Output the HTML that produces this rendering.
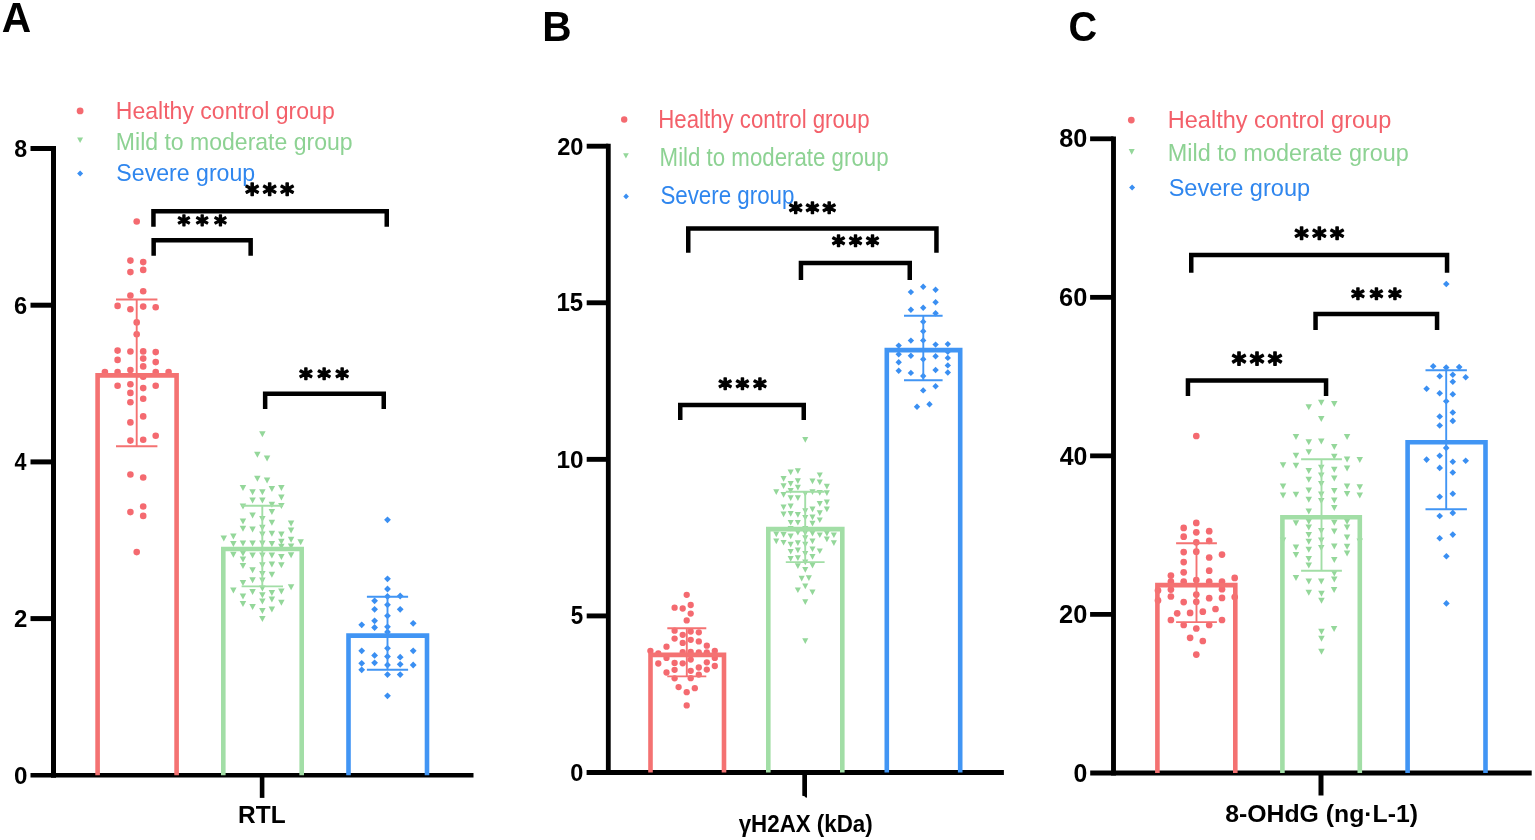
<!DOCTYPE html>
<html><head><meta charset="utf-8"><title>Figure</title>
<style>html,body{margin:0;padding:0;background:#fff;}svg{display:block;}</style>
</head><body>
<svg width="1535" height="840" viewBox="0 0 1535 840">
<rect width="1535" height="840" fill="#fff"/>
<text transform="translate(1.78,31.80) scale(0.9466,1)" font-family='"Liberation Sans", Arial, sans-serif' font-weight="bold" font-size="43.04" fill="#000" >A</text>
<text transform="translate(542.36,41.20) scale(0.9509,1)" font-family='"Liberation Sans", Arial, sans-serif' font-weight="bold" font-size="42.75" fill="#000" >B</text>
<text transform="translate(1068.41,40.97) scale(0.9271,1)" font-family='"Liberation Sans", Arial, sans-serif' font-weight="bold" font-size="42.82" fill="#000" >C</text>
<line x1="53.50" y1="146.00" x2="53.50" y2="777.70" stroke="#000" stroke-width="5.0" stroke-linecap="butt"/>
<line x1="30.50" y1="775.30" x2="473.50" y2="775.30" stroke="#000" stroke-width="4.6" stroke-linecap="butt"/>
<line x1="30.50" y1="618.60" x2="53.50" y2="618.60" stroke="#000" stroke-width="5.0" stroke-linecap="butt"/>
<line x1="30.50" y1="461.90" x2="53.50" y2="461.90" stroke="#000" stroke-width="5.0" stroke-linecap="butt"/>
<line x1="30.50" y1="305.20" x2="53.50" y2="305.20" stroke="#000" stroke-width="5.0" stroke-linecap="butt"/>
<line x1="30.50" y1="148.50" x2="53.50" y2="148.50" stroke="#000" stroke-width="5.0" stroke-linecap="butt"/>
<text transform="translate(13.93,783.61) scale(1.0052,1)" font-family='"Liberation Sans", Arial, sans-serif' font-weight="bold" font-size="24.08" fill="#000" >0</text>
<text transform="translate(14.06,627.15) scale(0.9808,1)" font-family='"Liberation Sans", Arial, sans-serif' font-weight="bold" font-size="24.43" fill="#000" >2</text>
<text transform="translate(14.58,470.45) scale(0.8674,1)" font-family='"Liberation Sans", Arial, sans-serif' font-weight="bold" font-size="24.78" fill="#000" >4</text>
<text transform="translate(14.07,313.51) scale(0.9845,1)" font-family='"Liberation Sans", Arial, sans-serif' font-weight="bold" font-size="24.08" fill="#000" >6</text>
<text transform="translate(14.20,156.81) scale(0.9646,1)" font-family='"Liberation Sans", Arial, sans-serif' font-weight="bold" font-size="24.08" fill="#000" >8</text>
<line x1="262.10" y1="775.30" x2="262.10" y2="797.90" stroke="#000" stroke-width="4.6" stroke-linecap="butt"/>
<text transform="translate(238.11,822.90) scale(1.0217,1)" font-family='"Liberation Sans", Arial, sans-serif' font-weight="bold" font-size="23.91" fill="#000" >RTL</text>
<circle cx="80.1" cy="110.9" r="3.4" fill="#F46A70"/>
<path d="M77.1,137.4h6.0l-3.0,5.6z" fill="#94D79A"/>
<path d="M80.1,170.4l3.0,3.0l-3.0,3.0l-3.0,-3.0z" fill="#3A8FF2"/>
<text transform="translate(115.86,119.40) scale(0.9437,1)" font-family='"Liberation Sans", Arial, sans-serif' font-weight="normal" font-size="24.40" fill="#F3606A" >Healthy control group</text>
<text transform="translate(115.86,149.60) scale(0.9435,1)" font-family='"Liberation Sans", Arial, sans-serif' font-weight="normal" font-size="24.40" fill="#8DD293" >Mild to moderate group</text>
<text transform="translate(116.36,181.40) scale(0.9477,1)" font-family='"Liberation Sans", Arial, sans-serif' font-weight="normal" font-size="24.40" fill="#2F86EE" >Severe group</text>
<line x1="608.30" y1="143.80" x2="608.30" y2="774.90" stroke="#000" stroke-width="4.8" stroke-linecap="butt"/>
<line x1="586.60" y1="772.50" x2="1003.90" y2="772.50" stroke="#000" stroke-width="4.8" stroke-linecap="butt"/>
<line x1="586.70" y1="615.92" x2="608.30" y2="615.92" stroke="#000" stroke-width="4.9" stroke-linecap="butt"/>
<line x1="586.70" y1="459.35" x2="608.30" y2="459.35" stroke="#000" stroke-width="4.9" stroke-linecap="butt"/>
<line x1="586.70" y1="302.78" x2="608.30" y2="302.78" stroke="#000" stroke-width="4.9" stroke-linecap="butt"/>
<line x1="586.70" y1="146.20" x2="608.30" y2="146.20" stroke="#000" stroke-width="4.9" stroke-linecap="butt"/>
<text transform="translate(570.36,781.00) scale(0.9566,1)" font-family='"Liberation Sans", Arial, sans-serif' font-weight="bold" font-size="24.65" fill="#000" >0</text>
<text transform="translate(570.63,624.42) scale(0.8960,1)" font-family='"Liberation Sans", Arial, sans-serif' font-weight="bold" font-size="25.00" fill="#000" >5</text>
<text transform="translate(556.42,467.85) scale(0.9891,1)" font-family='"Liberation Sans", Arial, sans-serif' font-weight="bold" font-size="24.65" fill="#000" >10</text>
<text transform="translate(556.44,311.28) scale(0.9608,1)" font-family='"Liberation Sans", Arial, sans-serif' font-weight="bold" font-size="25.00" fill="#000" >15</text>
<text transform="translate(557.17,154.70) scale(0.9604,1)" font-family='"Liberation Sans", Arial, sans-serif' font-weight="bold" font-size="24.65" fill="#000" >20</text>
<path d="M802.3,772 H807.0 V797.6 L806.0,797.8 L804.5,796.2 L802.3,795.7 Z" fill="#000"/>
<text transform="translate(738.69,831.99) scale(0.9365,1)" font-family='"Liberation Sans", Arial, sans-serif' font-weight="bold" font-size="23.85" fill="#000" >γH2AX (kDa)</text>
<circle cx="624.2" cy="119.5" r="3.2" fill="#F46A70"/>
<path d="M623.1,153.3h5.7l-2.9,5.3z" fill="#94D79A"/>
<path d="M626.1,193.6l2.8,2.8l-2.8,2.8l-2.8,-2.8z" fill="#3A8FF2"/>
<text transform="translate(658.32,128.30) scale(0.8931,1)" font-family='"Liberation Sans", Arial, sans-serif' font-weight="normal" font-size="24.90" fill="#F3606A" >Healthy control group</text>
<text transform="translate(659.62,165.50) scale(0.8945,1)" font-family='"Liberation Sans", Arial, sans-serif' font-weight="normal" font-size="24.90" fill="#8DD293" >Mild to moderate group</text>
<text transform="translate(660.40,204.10) scale(0.8968,1)" font-family='"Liberation Sans", Arial, sans-serif' font-weight="normal" font-size="24.90" fill="#2F86EE" >Severe group</text>
<line x1="1113.50" y1="136.40" x2="1113.50" y2="775.40" stroke="#000" stroke-width="4.9" stroke-linecap="butt"/>
<line x1="1090.20" y1="772.90" x2="1531.70" y2="772.90" stroke="#000" stroke-width="5.0" stroke-linecap="butt"/>
<line x1="1090.10" y1="614.38" x2="1113.50" y2="614.38" stroke="#000" stroke-width="4.8" stroke-linecap="butt"/>
<line x1="1090.10" y1="455.85" x2="1113.50" y2="455.85" stroke="#000" stroke-width="4.8" stroke-linecap="butt"/>
<line x1="1090.10" y1="297.33" x2="1113.50" y2="297.33" stroke="#000" stroke-width="4.8" stroke-linecap="butt"/>
<line x1="1090.10" y1="138.80" x2="1113.50" y2="138.80" stroke="#000" stroke-width="4.8" stroke-linecap="butt"/>
<text transform="translate(1073.51,781.55) scale(0.9909,1)" font-family='"Liberation Sans", Arial, sans-serif' font-weight="bold" font-size="25.07" fill="#000" >0</text>
<text transform="translate(1059.11,623.02) scale(1.0136,1)" font-family='"Liberation Sans", Arial, sans-serif' font-weight="bold" font-size="25.07" fill="#000" >20</text>
<text transform="translate(1059.63,464.50) scale(0.9944,1)" font-family='"Liberation Sans", Arial, sans-serif' font-weight="bold" font-size="25.07" fill="#000" >40</text>
<text transform="translate(1059.11,305.97) scale(1.0136,1)" font-family='"Liberation Sans", Arial, sans-serif' font-weight="bold" font-size="25.07" fill="#000" >60</text>
<text transform="translate(1059.24,147.45) scale(1.0087,1)" font-family='"Liberation Sans", Arial, sans-serif' font-weight="bold" font-size="25.07" fill="#000" >80</text>
<line x1="1321.00" y1="772.90" x2="1321.00" y2="795.50" stroke="#000" stroke-width="5.0" stroke-linecap="butt"/>
<text x="1225.16" y="821.89" font-family='"Liberation Sans", Arial, sans-serif' font-weight="bold" font-size="24.81" fill="#000" >8-OHdG (ng·L-1)</text>
<circle cx="1131.3" cy="120.1" r="3.4" fill="#F46A70"/>
<path d="M1128.7,149.1h6.0l-3.0,5.6z" fill="#94D79A"/>
<path d="M1132.1,184.6l3.0,3.0l-3.0,3.0l-3.0,-3.0z" fill="#3A8FF2"/>
<text transform="translate(1167.82,128.30) scale(0.9478,1)" font-family='"Liberation Sans", Arial, sans-serif' font-weight="normal" font-size="24.80" fill="#F3606A" >Healthy control group</text>
<text transform="translate(1167.82,161.10) scale(0.9454,1)" font-family='"Liberation Sans", Arial, sans-serif' font-weight="normal" font-size="24.80" fill="#8DD293" >Mild to moderate group</text>
<text transform="translate(1168.64,196.10) scale(0.9502,1)" font-family='"Liberation Sans", Arial, sans-serif' font-weight="normal" font-size="24.80" fill="#2F86EE" >Severe group</text>
<circle cx="136.7" cy="221.5" r="3.3" fill="#F46A70"/>
<circle cx="130.4" cy="260.6" r="3.3" fill="#F46A70"/>
<circle cx="143.2" cy="262.1" r="3.3" fill="#F46A70"/>
<circle cx="130.4" cy="272.1" r="3.3" fill="#F46A70"/>
<circle cx="143.2" cy="269.9" r="3.3" fill="#F46A70"/>
<circle cx="143.2" cy="291.3" r="3.3" fill="#F46A70"/>
<circle cx="130.4" cy="295.5" r="3.3" fill="#F46A70"/>
<circle cx="117.6" cy="305.9" r="3.3" fill="#F46A70"/>
<circle cx="130.4" cy="309.3" r="3.3" fill="#F46A70"/>
<circle cx="143.2" cy="306.6" r="3.3" fill="#F46A70"/>
<circle cx="155.7" cy="307.3" r="3.3" fill="#F46A70"/>
<circle cx="136.7" cy="322.4" r="3.3" fill="#F46A70"/>
<circle cx="136.7" cy="334.2" r="3.3" fill="#F46A70"/>
<circle cx="117.6" cy="350.6" r="3.3" fill="#F46A70"/>
<circle cx="130.4" cy="351.5" r="3.3" fill="#F46A70"/>
<circle cx="143.2" cy="351.4" r="3.3" fill="#F46A70"/>
<circle cx="155.7" cy="352.1" r="3.3" fill="#F46A70"/>
<circle cx="117.6" cy="359.9" r="3.3" fill="#F46A70"/>
<circle cx="143.2" cy="358.6" r="3.3" fill="#F46A70"/>
<circle cx="155.7" cy="362.1" r="3.3" fill="#F46A70"/>
<circle cx="143.2" cy="366.4" r="3.3" fill="#F46A70"/>
<circle cx="104.9" cy="372.0" r="3.3" fill="#F46A70"/>
<circle cx="117.6" cy="372.0" r="3.3" fill="#F46A70"/>
<circle cx="130.4" cy="370.0" r="3.3" fill="#F46A70"/>
<circle cx="155.7" cy="372.0" r="3.3" fill="#F46A70"/>
<circle cx="168.6" cy="372.0" r="3.3" fill="#F46A70"/>
<circle cx="143.2" cy="376.8" r="3.3" fill="#F46A70"/>
<circle cx="117.6" cy="385.7" r="3.3" fill="#F46A70"/>
<circle cx="130.4" cy="384.2" r="3.3" fill="#F46A70"/>
<circle cx="143.2" cy="388.1" r="3.3" fill="#F46A70"/>
<circle cx="155.7" cy="385.7" r="3.3" fill="#F46A70"/>
<circle cx="130.4" cy="392.9" r="3.3" fill="#F46A70"/>
<circle cx="143.2" cy="398.7" r="3.3" fill="#F46A70"/>
<circle cx="130.4" cy="402.3" r="3.3" fill="#F46A70"/>
<circle cx="143.2" cy="416.4" r="3.3" fill="#F46A70"/>
<circle cx="130.4" cy="422.4" r="3.3" fill="#F46A70"/>
<circle cx="155.7" cy="435.8" r="3.3" fill="#F46A70"/>
<circle cx="130.4" cy="440.6" r="3.3" fill="#F46A70"/>
<circle cx="143.2" cy="439.8" r="3.3" fill="#F46A70"/>
<circle cx="130.4" cy="474.5" r="3.3" fill="#F46A70"/>
<circle cx="143.2" cy="477.5" r="3.3" fill="#F46A70"/>
<circle cx="143.2" cy="506.5" r="3.3" fill="#F46A70"/>
<circle cx="130.4" cy="512.1" r="3.3" fill="#F46A70"/>
<circle cx="143.2" cy="515.9" r="3.3" fill="#F46A70"/>
<circle cx="136.7" cy="552.1" r="3.3" fill="#F46A70"/>
<path d="M259.1,431.2h6.5l-3.2,6.0z" fill="#94D79A"/>
<path d="M254.1,451.7h6.5l-3.2,6.0z" fill="#94D79A"/>
<path d="M263.8,455.5h6.5l-3.2,6.0z" fill="#94D79A"/>
<path d="M254.1,475.8h6.5l-3.2,6.0z" fill="#94D79A"/>
<path d="M263.8,477.4h6.5l-3.2,6.0z" fill="#94D79A"/>
<path d="M239.7,484.9h6.5l-3.2,6.0z" fill="#94D79A"/>
<path d="M249.3,489.2h6.5l-3.2,6.0z" fill="#94D79A"/>
<path d="M259.1,489.2h6.5l-3.2,6.0z" fill="#94D79A"/>
<path d="M268.6,486.0h6.5l-3.2,6.0z" fill="#94D79A"/>
<path d="M278.1,485.1h6.5l-3.2,6.0z" fill="#94D79A"/>
<path d="M278.1,494.4h6.5l-3.2,6.0z" fill="#94D79A"/>
<path d="M249.3,497.6h6.5l-3.2,6.0z" fill="#94D79A"/>
<path d="M259.1,497.6h6.5l-3.2,6.0z" fill="#94D79A"/>
<path d="M239.7,503.5h6.5l-3.2,6.0z" fill="#94D79A"/>
<path d="M268.6,501.8h6.5l-3.2,6.0z" fill="#94D79A"/>
<path d="M278.1,503.0h6.5l-3.2,6.0z" fill="#94D79A"/>
<path d="M268.6,508.9h6.5l-3.2,6.0z" fill="#94D79A"/>
<path d="M249.3,512.6h6.5l-3.2,6.0z" fill="#94D79A"/>
<path d="M259.1,515.9h6.5l-3.2,6.0z" fill="#94D79A"/>
<path d="M239.7,518.4h6.5l-3.2,6.0z" fill="#94D79A"/>
<path d="M268.6,519.7h6.5l-3.2,6.0z" fill="#94D79A"/>
<path d="M287.8,520.5h6.5l-3.2,6.0z" fill="#94D79A"/>
<path d="M239.7,525.7h6.5l-3.2,6.0z" fill="#94D79A"/>
<path d="M249.3,526.4h6.5l-3.2,6.0z" fill="#94D79A"/>
<path d="M259.1,524.7h6.5l-3.2,6.0z" fill="#94D79A"/>
<path d="M287.8,527.6h6.5l-3.2,6.0z" fill="#94D79A"/>
<path d="M220.5,535.5h6.5l-3.2,6.0z" fill="#94D79A"/>
<path d="M230.1,533.4h6.5l-3.2,6.0z" fill="#94D79A"/>
<path d="M259.1,531.4h6.5l-3.2,6.0z" fill="#94D79A"/>
<path d="M268.6,530.7h6.5l-3.2,6.0z" fill="#94D79A"/>
<path d="M278.1,531.4h6.5l-3.2,6.0z" fill="#94D79A"/>
<path d="M287.8,536.8h6.5l-3.2,6.0z" fill="#94D79A"/>
<path d="M297.4,539.3h6.5l-3.2,6.0z" fill="#94D79A"/>
<path d="M230.1,540.9h6.5l-3.2,6.0z" fill="#94D79A"/>
<path d="M239.7,540.5h6.5l-3.2,6.0z" fill="#94D79A"/>
<path d="M249.3,540.5h6.5l-3.2,6.0z" fill="#94D79A"/>
<path d="M259.1,540.5h6.5l-3.2,6.0z" fill="#94D79A"/>
<path d="M268.6,540.9h6.5l-3.2,6.0z" fill="#94D79A"/>
<path d="M278.1,538.7h6.5l-3.2,6.0z" fill="#94D79A"/>
<path d="M278.1,543.7h6.5l-3.2,6.0z" fill="#94D79A"/>
<path d="M287.8,543.5h6.5l-3.2,6.0z" fill="#94D79A"/>
<path d="M230.1,551.8h6.5l-3.2,6.0z" fill="#94D79A"/>
<path d="M239.7,550.5h6.5l-3.2,6.0z" fill="#94D79A"/>
<path d="M239.7,556.4h6.5l-3.2,6.0z" fill="#94D79A"/>
<path d="M249.3,552.6h6.5l-3.2,6.0z" fill="#94D79A"/>
<path d="M259.1,552.6h6.5l-3.2,6.0z" fill="#94D79A"/>
<path d="M268.6,552.6h6.5l-3.2,6.0z" fill="#94D79A"/>
<path d="M278.1,553.9h6.5l-3.2,6.0z" fill="#94D79A"/>
<path d="M287.8,552.2h6.5l-3.2,6.0z" fill="#94D79A"/>
<path d="M239.7,563.0h6.5l-3.2,6.0z" fill="#94D79A"/>
<path d="M259.1,562.2h6.5l-3.2,6.0z" fill="#94D79A"/>
<path d="M268.6,561.4h6.5l-3.2,6.0z" fill="#94D79A"/>
<path d="M278.1,562.2h6.5l-3.2,6.0z" fill="#94D79A"/>
<path d="M249.3,567.2h6.5l-3.2,6.0z" fill="#94D79A"/>
<path d="M259.1,570.9h6.5l-3.2,6.0z" fill="#94D79A"/>
<path d="M268.6,571.8h6.5l-3.2,6.0z" fill="#94D79A"/>
<path d="M249.3,577.2h6.5l-3.2,6.0z" fill="#94D79A"/>
<path d="M259.1,577.6h6.5l-3.2,6.0z" fill="#94D79A"/>
<path d="M239.7,580.1h6.5l-3.2,6.0z" fill="#94D79A"/>
<path d="M287.8,584.3h6.5l-3.2,6.0z" fill="#94D79A"/>
<path d="M230.1,587.6h6.5l-3.2,6.0z" fill="#94D79A"/>
<path d="M249.3,588.9h6.5l-3.2,6.0z" fill="#94D79A"/>
<path d="M259.1,585.5h6.5l-3.2,6.0z" fill="#94D79A"/>
<path d="M268.6,590.1h6.5l-3.2,6.0z" fill="#94D79A"/>
<path d="M278.1,588.4h6.5l-3.2,6.0z" fill="#94D79A"/>
<path d="M239.7,593.4h6.5l-3.2,6.0z" fill="#94D79A"/>
<path d="M259.1,592.2h6.5l-3.2,6.0z" fill="#94D79A"/>
<path d="M268.6,596.4h6.5l-3.2,6.0z" fill="#94D79A"/>
<path d="M259.1,598.4h6.5l-3.2,6.0z" fill="#94D79A"/>
<path d="M278.1,599.7h6.5l-3.2,6.0z" fill="#94D79A"/>
<path d="M239.7,601.1h6.5l-3.2,6.0z" fill="#94D79A"/>
<path d="M249.3,604.1h6.5l-3.2,6.0z" fill="#94D79A"/>
<path d="M259.1,608.0h6.5l-3.2,6.0z" fill="#94D79A"/>
<path d="M268.6,606.6h6.5l-3.2,6.0z" fill="#94D79A"/>
<path d="M259.1,615.9h6.5l-3.2,6.0z" fill="#94D79A"/>
<path d="M387.5,516.4l3.4,3.4l-3.4,3.4l-3.4,-3.4z" fill="#3A8FF2"/>
<path d="M387.5,575.4l3.4,3.4l-3.4,3.4l-3.4,-3.4z" fill="#3A8FF2"/>
<path d="M387.5,585.6l3.4,3.4l-3.4,3.4l-3.4,-3.4z" fill="#3A8FF2"/>
<path d="M387.5,593.1l3.4,3.4l-3.4,3.4l-3.4,-3.4z" fill="#3A8FF2"/>
<path d="M400.2,592.6l3.4,3.4l-3.4,3.4l-3.4,-3.4z" fill="#3A8FF2"/>
<path d="M374.6,597.4l3.4,3.4l-3.4,3.4l-3.4,-3.4z" fill="#3A8FF2"/>
<path d="M387.5,601.4l3.4,3.4l-3.4,3.4l-3.4,-3.4z" fill="#3A8FF2"/>
<path d="M374.6,605.9l3.4,3.4l-3.4,3.4l-3.4,-3.4z" fill="#3A8FF2"/>
<path d="M400.2,605.9l3.4,3.4l-3.4,3.4l-3.4,-3.4z" fill="#3A8FF2"/>
<path d="M387.5,612.4l3.4,3.4l-3.4,3.4l-3.4,-3.4z" fill="#3A8FF2"/>
<path d="M374.6,617.4l3.4,3.4l-3.4,3.4l-3.4,-3.4z" fill="#3A8FF2"/>
<path d="M361.7,621.4l3.4,3.4l-3.4,3.4l-3.4,-3.4z" fill="#3A8FF2"/>
<path d="M413.2,619.9l3.4,3.4l-3.4,3.4l-3.4,-3.4z" fill="#3A8FF2"/>
<path d="M374.6,624.1l3.4,3.4l-3.4,3.4l-3.4,-3.4z" fill="#3A8FF2"/>
<path d="M387.5,623.4l3.4,3.4l-3.4,3.4l-3.4,-3.4z" fill="#3A8FF2"/>
<path d="M387.5,628.6l3.4,3.4l-3.4,3.4l-3.4,-3.4z" fill="#3A8FF2"/>
<path d="M387.5,644.9l3.4,3.4l-3.4,3.4l-3.4,-3.4z" fill="#3A8FF2"/>
<path d="M361.7,647.4l3.4,3.4l-3.4,3.4l-3.4,-3.4z" fill="#3A8FF2"/>
<path d="M413.2,647.4l3.4,3.4l-3.4,3.4l-3.4,-3.4z" fill="#3A8FF2"/>
<path d="M374.6,652.0l3.4,3.4l-3.4,3.4l-3.4,-3.4z" fill="#3A8FF2"/>
<path d="M387.5,653.1l3.4,3.4l-3.4,3.4l-3.4,-3.4z" fill="#3A8FF2"/>
<path d="M400.2,653.8l3.4,3.4l-3.4,3.4l-3.4,-3.4z" fill="#3A8FF2"/>
<path d="M361.7,659.9l3.4,3.4l-3.4,3.4l-3.4,-3.4z" fill="#3A8FF2"/>
<path d="M374.6,659.4l3.4,3.4l-3.4,3.4l-3.4,-3.4z" fill="#3A8FF2"/>
<path d="M387.5,661.6l3.4,3.4l-3.4,3.4l-3.4,-3.4z" fill="#3A8FF2"/>
<path d="M400.2,660.9l3.4,3.4l-3.4,3.4l-3.4,-3.4z" fill="#3A8FF2"/>
<path d="M413.2,661.6l3.4,3.4l-3.4,3.4l-3.4,-3.4z" fill="#3A8FF2"/>
<path d="M361.7,666.4l3.4,3.4l-3.4,3.4l-3.4,-3.4z" fill="#3A8FF2"/>
<path d="M387.5,671.2l3.4,3.4l-3.4,3.4l-3.4,-3.4z" fill="#3A8FF2"/>
<path d="M400.2,671.2l3.4,3.4l-3.4,3.4l-3.4,-3.4z" fill="#3A8FF2"/>
<path d="M387.5,692.4l3.4,3.4l-3.4,3.4l-3.4,-3.4z" fill="#3A8FF2"/>
<circle cx="686.7" cy="594.8" r="3.15" fill="#F46A70"/>
<circle cx="674.6" cy="607.7" r="3.15" fill="#F46A70"/>
<circle cx="682.7" cy="608.5" r="3.15" fill="#F46A70"/>
<circle cx="690.7" cy="605.0" r="3.15" fill="#F46A70"/>
<circle cx="690.7" cy="613.6" r="3.15" fill="#F46A70"/>
<circle cx="686.7" cy="620.4" r="3.15" fill="#F46A70"/>
<circle cx="674.6" cy="630.7" r="3.15" fill="#F46A70"/>
<circle cx="690.7" cy="631.5" r="3.15" fill="#F46A70"/>
<circle cx="698.8" cy="632.3" r="3.15" fill="#F46A70"/>
<circle cx="682.7" cy="634.8" r="3.15" fill="#F46A70"/>
<circle cx="674.6" cy="638.6" r="3.15" fill="#F46A70"/>
<circle cx="690.7" cy="639.8" r="3.15" fill="#F46A70"/>
<circle cx="698.8" cy="641.4" r="3.15" fill="#F46A70"/>
<circle cx="682.7" cy="642.9" r="3.15" fill="#F46A70"/>
<circle cx="666.5" cy="646.7" r="3.15" fill="#F46A70"/>
<circle cx="706.8" cy="645.7" r="3.15" fill="#F46A70"/>
<circle cx="650.4" cy="650.8" r="3.15" fill="#F46A70"/>
<circle cx="714.8" cy="650.8" r="3.15" fill="#F46A70"/>
<circle cx="658.3" cy="653.5" r="3.15" fill="#F46A70"/>
<circle cx="682.7" cy="652.1" r="3.15" fill="#F46A70"/>
<circle cx="690.7" cy="651.9" r="3.15" fill="#F46A70"/>
<circle cx="698.8" cy="652.3" r="3.15" fill="#F46A70"/>
<circle cx="706.8" cy="652.5" r="3.15" fill="#F46A70"/>
<circle cx="666.5" cy="657.9" r="3.15" fill="#F46A70"/>
<circle cx="690.7" cy="659.6" r="3.15" fill="#F46A70"/>
<circle cx="714.8" cy="657.9" r="3.15" fill="#F46A70"/>
<circle cx="658.3" cy="663.5" r="3.15" fill="#F46A70"/>
<circle cx="674.6" cy="662.9" r="3.15" fill="#F46A70"/>
<circle cx="682.7" cy="663.3" r="3.15" fill="#F46A70"/>
<circle cx="706.8" cy="662.3" r="3.15" fill="#F46A70"/>
<circle cx="714.8" cy="666.0" r="3.15" fill="#F46A70"/>
<circle cx="698.8" cy="667.5" r="3.15" fill="#F46A70"/>
<circle cx="674.6" cy="669.8" r="3.15" fill="#F46A70"/>
<circle cx="690.7" cy="670.8" r="3.15" fill="#F46A70"/>
<circle cx="706.8" cy="669.6" r="3.15" fill="#F46A70"/>
<circle cx="666.5" cy="672.5" r="3.15" fill="#F46A70"/>
<circle cx="698.8" cy="674.6" r="3.15" fill="#F46A70"/>
<circle cx="674.6" cy="678.3" r="3.15" fill="#F46A70"/>
<circle cx="690.7" cy="678.2" r="3.15" fill="#F46A70"/>
<circle cx="678.6" cy="687.1" r="3.15" fill="#F46A70"/>
<circle cx="694.8" cy="688.2" r="3.15" fill="#F46A70"/>
<circle cx="686.7" cy="692.2" r="3.15" fill="#F46A70"/>
<circle cx="686.7" cy="705.4" r="3.15" fill="#F46A70"/>
<path d="M802.2,437.0h6.1l-3.0,5.7z" fill="#94D79A"/>
<path d="M787.6,469.5h6.1l-3.0,5.7z" fill="#94D79A"/>
<path d="M794.8,468.2h6.1l-3.0,5.7z" fill="#94D79A"/>
<path d="M816.7,472.4h6.1l-3.0,5.7z" fill="#94D79A"/>
<path d="M780.5,476.1h6.1l-3.0,5.7z" fill="#94D79A"/>
<path d="M794.8,478.2h6.1l-3.0,5.7z" fill="#94D79A"/>
<path d="M809.4,478.6h6.1l-3.0,5.7z" fill="#94D79A"/>
<path d="M816.7,479.5h6.1l-3.0,5.7z" fill="#94D79A"/>
<path d="M787.6,481.1h6.1l-3.0,5.7z" fill="#94D79A"/>
<path d="M780.5,483.2h6.1l-3.0,5.7z" fill="#94D79A"/>
<path d="M794.8,484.7h6.1l-3.0,5.7z" fill="#94D79A"/>
<path d="M823.8,483.8h6.1l-3.0,5.7z" fill="#94D79A"/>
<path d="M773.2,489.3h6.1l-3.0,5.7z" fill="#94D79A"/>
<path d="M787.6,488.0h6.1l-3.0,5.7z" fill="#94D79A"/>
<path d="M809.4,489.3h6.1l-3.0,5.7z" fill="#94D79A"/>
<path d="M816.7,490.1h6.1l-3.0,5.7z" fill="#94D79A"/>
<path d="M823.8,490.3h6.1l-3.0,5.7z" fill="#94D79A"/>
<path d="M780.5,492.1h6.1l-3.0,5.7z" fill="#94D79A"/>
<path d="M802.2,491.1h6.1l-3.0,5.7z" fill="#94D79A"/>
<path d="M787.6,495.3h6.1l-3.0,5.7z" fill="#94D79A"/>
<path d="M794.8,495.3h6.1l-3.0,5.7z" fill="#94D79A"/>
<path d="M816.7,501.1h6.1l-3.0,5.7z" fill="#94D79A"/>
<path d="M823.8,499.5h6.1l-3.0,5.7z" fill="#94D79A"/>
<path d="M780.5,504.5h6.1l-3.0,5.7z" fill="#94D79A"/>
<path d="M787.6,503.6h6.1l-3.0,5.7z" fill="#94D79A"/>
<path d="M802.2,508.2h6.1l-3.0,5.7z" fill="#94D79A"/>
<path d="M809.4,506.6h6.1l-3.0,5.7z" fill="#94D79A"/>
<path d="M823.8,506.6h6.1l-3.0,5.7z" fill="#94D79A"/>
<path d="M780.5,511.6h6.1l-3.0,5.7z" fill="#94D79A"/>
<path d="M787.6,511.1h6.1l-3.0,5.7z" fill="#94D79A"/>
<path d="M794.8,512.0h6.1l-3.0,5.7z" fill="#94D79A"/>
<path d="M816.7,510.3h6.1l-3.0,5.7z" fill="#94D79A"/>
<path d="M802.2,514.9h6.1l-3.0,5.7z" fill="#94D79A"/>
<path d="M809.4,514.5h6.1l-3.0,5.7z" fill="#94D79A"/>
<path d="M816.7,517.4h6.1l-3.0,5.7z" fill="#94D79A"/>
<path d="M787.6,519.9h6.1l-3.0,5.7z" fill="#94D79A"/>
<path d="M794.8,519.9h6.1l-3.0,5.7z" fill="#94D79A"/>
<path d="M809.4,520.7h6.1l-3.0,5.7z" fill="#94D79A"/>
<path d="M787.6,525.9h6.1l-3.0,5.7z" fill="#94D79A"/>
<path d="M802.2,525.9h6.1l-3.0,5.7z" fill="#94D79A"/>
<path d="M773.2,531.6h6.1l-3.0,5.7z" fill="#94D79A"/>
<path d="M780.5,532.0h6.1l-3.0,5.7z" fill="#94D79A"/>
<path d="M787.6,533.6h6.1l-3.0,5.7z" fill="#94D79A"/>
<path d="M794.8,529.9h6.1l-3.0,5.7z" fill="#94D79A"/>
<path d="M802.2,530.3h6.1l-3.0,5.7z" fill="#94D79A"/>
<path d="M809.4,530.7h6.1l-3.0,5.7z" fill="#94D79A"/>
<path d="M816.7,532.4h6.1l-3.0,5.7z" fill="#94D79A"/>
<path d="M823.8,530.7h6.1l-3.0,5.7z" fill="#94D79A"/>
<path d="M830.8,532.4h6.1l-3.0,5.7z" fill="#94D79A"/>
<path d="M773.2,538.6h6.1l-3.0,5.7z" fill="#94D79A"/>
<path d="M780.5,539.9h6.1l-3.0,5.7z" fill="#94D79A"/>
<path d="M787.6,541.8h6.1l-3.0,5.7z" fill="#94D79A"/>
<path d="M794.8,540.3h6.1l-3.0,5.7z" fill="#94D79A"/>
<path d="M802.2,535.3h6.1l-3.0,5.7z" fill="#94D79A"/>
<path d="M802.2,541.8h6.1l-3.0,5.7z" fill="#94D79A"/>
<path d="M809.4,538.6h6.1l-3.0,5.7z" fill="#94D79A"/>
<path d="M823.8,536.6h6.1l-3.0,5.7z" fill="#94D79A"/>
<path d="M830.8,540.3h6.1l-3.0,5.7z" fill="#94D79A"/>
<path d="M787.6,548.9h6.1l-3.0,5.7z" fill="#94D79A"/>
<path d="M794.8,547.6h6.1l-3.0,5.7z" fill="#94D79A"/>
<path d="M809.4,546.4h6.1l-3.0,5.7z" fill="#94D79A"/>
<path d="M816.7,548.4h6.1l-3.0,5.7z" fill="#94D79A"/>
<path d="M802.2,551.1h6.1l-3.0,5.7z" fill="#94D79A"/>
<path d="M787.6,556.1h6.1l-3.0,5.7z" fill="#94D79A"/>
<path d="M794.8,555.3h6.1l-3.0,5.7z" fill="#94D79A"/>
<path d="M809.4,554.1h6.1l-3.0,5.7z" fill="#94D79A"/>
<path d="M794.8,563.2h6.1l-3.0,5.7z" fill="#94D79A"/>
<path d="M802.2,559.5h6.1l-3.0,5.7z" fill="#94D79A"/>
<path d="M809.4,562.8h6.1l-3.0,5.7z" fill="#94D79A"/>
<path d="M802.2,567.0h6.1l-3.0,5.7z" fill="#94D79A"/>
<path d="M798.6,575.7h6.1l-3.0,5.7z" fill="#94D79A"/>
<path d="M805.8,575.3h6.1l-3.0,5.7z" fill="#94D79A"/>
<path d="M802.2,583.6h6.1l-3.0,5.7z" fill="#94D79A"/>
<path d="M794.8,587.4h6.1l-3.0,5.7z" fill="#94D79A"/>
<path d="M809.4,589.5h6.1l-3.0,5.7z" fill="#94D79A"/>
<path d="M802.2,599.3h6.1l-3.0,5.7z" fill="#94D79A"/>
<path d="M802.2,638.2h6.1l-3.0,5.7z" fill="#94D79A"/>
<path d="M923.2,283.5l3.2,3.2l-3.2,3.2l-3.2,-3.2z" fill="#3A8FF2"/>
<path d="M910.9,288.9l3.2,3.2l-3.2,3.2l-3.2,-3.2z" fill="#3A8FF2"/>
<path d="M935.6,286.6l3.2,3.2l-3.2,3.2l-3.2,-3.2z" fill="#3A8FF2"/>
<path d="M935.6,299.1l3.2,3.2l-3.2,3.2l-3.2,-3.2z" fill="#3A8FF2"/>
<path d="M910.9,306.6l3.2,3.2l-3.2,3.2l-3.2,-3.2z" fill="#3A8FF2"/>
<path d="M923.2,304.6l3.2,3.2l-3.2,3.2l-3.2,-3.2z" fill="#3A8FF2"/>
<path d="M935.6,310.1l3.2,3.2l-3.2,3.2l-3.2,-3.2z" fill="#3A8FF2"/>
<path d="M923.2,318.5l3.2,3.2l-3.2,3.2l-3.2,-3.2z" fill="#3A8FF2"/>
<path d="M923.2,328.1l3.2,3.2l-3.2,3.2l-3.2,-3.2z" fill="#3A8FF2"/>
<path d="M910.9,337.4l3.2,3.2l-3.2,3.2l-3.2,-3.2z" fill="#3A8FF2"/>
<path d="M923.2,337.2l3.2,3.2l-3.2,3.2l-3.2,-3.2z" fill="#3A8FF2"/>
<path d="M898.7,342.4l3.2,3.2l-3.2,3.2l-3.2,-3.2z" fill="#3A8FF2"/>
<path d="M935.6,341.4l3.2,3.2l-3.2,3.2l-3.2,-3.2z" fill="#3A8FF2"/>
<path d="M947.8,340.9l3.2,3.2l-3.2,3.2l-3.2,-3.2z" fill="#3A8FF2"/>
<path d="M898.7,351.0l3.2,3.2l-3.2,3.2l-3.2,-3.2z" fill="#3A8FF2"/>
<path d="M910.9,352.6l3.2,3.2l-3.2,3.2l-3.2,-3.2z" fill="#3A8FF2"/>
<path d="M935.6,353.1l3.2,3.2l-3.2,3.2l-3.2,-3.2z" fill="#3A8FF2"/>
<path d="M947.8,348.5l3.2,3.2l-3.2,3.2l-3.2,-3.2z" fill="#3A8FF2"/>
<path d="M947.8,354.7l3.2,3.2l-3.2,3.2l-3.2,-3.2z" fill="#3A8FF2"/>
<path d="M923.2,356.1l3.2,3.2l-3.2,3.2l-3.2,-3.2z" fill="#3A8FF2"/>
<path d="M898.7,359.1l3.2,3.2l-3.2,3.2l-3.2,-3.2z" fill="#3A8FF2"/>
<path d="M947.8,362.2l3.2,3.2l-3.2,3.2l-3.2,-3.2z" fill="#3A8FF2"/>
<path d="M898.7,367.5l3.2,3.2l-3.2,3.2l-3.2,-3.2z" fill="#3A8FF2"/>
<path d="M935.6,366.8l3.2,3.2l-3.2,3.2l-3.2,-3.2z" fill="#3A8FF2"/>
<path d="M947.8,369.3l3.2,3.2l-3.2,3.2l-3.2,-3.2z" fill="#3A8FF2"/>
<path d="M910.9,369.7l3.2,3.2l-3.2,3.2l-3.2,-3.2z" fill="#3A8FF2"/>
<path d="M923.2,372.8l3.2,3.2l-3.2,3.2l-3.2,-3.2z" fill="#3A8FF2"/>
<path d="M935.6,383.1l3.2,3.2l-3.2,3.2l-3.2,-3.2z" fill="#3A8FF2"/>
<path d="M923.2,387.2l3.2,3.2l-3.2,3.2l-3.2,-3.2z" fill="#3A8FF2"/>
<path d="M929.5,401.0l3.2,3.2l-3.2,3.2l-3.2,-3.2z" fill="#3A8FF2"/>
<path d="M917.0,403.5l3.2,3.2l-3.2,3.2l-3.2,-3.2z" fill="#3A8FF2"/>
<circle cx="1196.3" cy="436.0" r="3.35" fill="#F46A70"/>
<circle cx="1196.3" cy="522.9" r="3.35" fill="#F46A70"/>
<circle cx="1183.7" cy="527.9" r="3.35" fill="#F46A70"/>
<circle cx="1196.3" cy="532.3" r="3.35" fill="#F46A70"/>
<circle cx="1209.2" cy="531.2" r="3.35" fill="#F46A70"/>
<circle cx="1183.7" cy="536.7" r="3.35" fill="#F46A70"/>
<circle cx="1196.3" cy="542.3" r="3.35" fill="#F46A70"/>
<circle cx="1209.2" cy="540.8" r="3.35" fill="#F46A70"/>
<circle cx="1183.7" cy="552.1" r="3.35" fill="#F46A70"/>
<circle cx="1196.3" cy="551.7" r="3.35" fill="#F46A70"/>
<circle cx="1222.0" cy="554.6" r="3.35" fill="#F46A70"/>
<circle cx="1209.2" cy="557.5" r="3.35" fill="#F46A70"/>
<circle cx="1183.7" cy="562.1" r="3.35" fill="#F46A70"/>
<circle cx="1183.7" cy="572.3" r="3.35" fill="#F46A70"/>
<circle cx="1209.2" cy="570.7" r="3.35" fill="#F46A70"/>
<circle cx="1170.9" cy="575.6" r="3.35" fill="#F46A70"/>
<circle cx="1234.7" cy="577.9" r="3.35" fill="#F46A70"/>
<circle cx="1170.9" cy="581.7" r="3.35" fill="#F46A70"/>
<circle cx="1183.7" cy="581.5" r="3.35" fill="#F46A70"/>
<circle cx="1196.3" cy="580.0" r="3.35" fill="#F46A70"/>
<circle cx="1209.2" cy="581.5" r="3.35" fill="#F46A70"/>
<circle cx="1222.0" cy="581.5" r="3.35" fill="#F46A70"/>
<circle cx="1158.0" cy="590.4" r="3.35" fill="#F46A70"/>
<circle cx="1158.0" cy="600.4" r="3.35" fill="#F46A70"/>
<circle cx="1234.7" cy="597.1" r="3.35" fill="#F46A70"/>
<circle cx="1170.9" cy="589.6" r="3.35" fill="#F46A70"/>
<circle cx="1222.0" cy="589.2" r="3.35" fill="#F46A70"/>
<circle cx="1170.9" cy="596.5" r="3.35" fill="#F46A70"/>
<circle cx="1196.3" cy="594.6" r="3.35" fill="#F46A70"/>
<circle cx="1209.2" cy="598.2" r="3.35" fill="#F46A70"/>
<circle cx="1222.0" cy="597.9" r="3.35" fill="#F46A70"/>
<circle cx="1183.7" cy="602.1" r="3.35" fill="#F46A70"/>
<circle cx="1196.3" cy="601.8" r="3.35" fill="#F46A70"/>
<circle cx="1215.5" cy="609.0" r="3.35" fill="#F46A70"/>
<circle cx="1177.2" cy="613.3" r="3.35" fill="#F46A70"/>
<circle cx="1190.1" cy="612.9" r="3.35" fill="#F46A70"/>
<circle cx="1202.8" cy="611.7" r="3.35" fill="#F46A70"/>
<circle cx="1170.9" cy="620.0" r="3.35" fill="#F46A70"/>
<circle cx="1222.0" cy="620.0" r="3.35" fill="#F46A70"/>
<circle cx="1183.7" cy="625.0" r="3.35" fill="#F46A70"/>
<circle cx="1209.2" cy="625.0" r="3.35" fill="#F46A70"/>
<circle cx="1196.3" cy="628.5" r="3.35" fill="#F46A70"/>
<circle cx="1190.1" cy="637.8" r="3.35" fill="#F46A70"/>
<circle cx="1202.8" cy="641.0" r="3.35" fill="#F46A70"/>
<circle cx="1196.3" cy="654.6" r="3.35" fill="#F46A70"/>
<path d="M1318.0,399.7h6.5l-3.2,6.0z" fill="#94D79A"/>
<path d="M1305.5,404.3h6.5l-3.2,6.0z" fill="#94D79A"/>
<path d="M1331.0,400.9h6.5l-3.2,6.0z" fill="#94D79A"/>
<path d="M1318.0,415.9h6.5l-3.2,6.0z" fill="#94D79A"/>
<path d="M1292.7,433.9h6.5l-3.2,6.0z" fill="#94D79A"/>
<path d="M1343.8,433.9h6.5l-3.2,6.0z" fill="#94D79A"/>
<path d="M1305.5,439.3h6.5l-3.2,6.0z" fill="#94D79A"/>
<path d="M1318.0,438.4h6.5l-3.2,6.0z" fill="#94D79A"/>
<path d="M1331.0,443.9h6.5l-3.2,6.0z" fill="#94D79A"/>
<path d="M1305.5,449.3h6.5l-3.2,6.0z" fill="#94D79A"/>
<path d="M1292.7,452.8h6.5l-3.2,6.0z" fill="#94D79A"/>
<path d="M1331.0,453.7h6.5l-3.2,6.0z" fill="#94D79A"/>
<path d="M1343.8,456.6h6.5l-3.2,6.0z" fill="#94D79A"/>
<path d="M1356.5,457.0h6.5l-3.2,6.0z" fill="#94D79A"/>
<path d="M1279.8,462.2h6.5l-3.2,6.0z" fill="#94D79A"/>
<path d="M1292.7,462.7h6.5l-3.2,6.0z" fill="#94D79A"/>
<path d="M1305.5,468.0h6.5l-3.2,6.0z" fill="#94D79A"/>
<path d="M1318.0,464.7h6.5l-3.2,6.0z" fill="#94D79A"/>
<path d="M1331.0,466.8h6.5l-3.2,6.0z" fill="#94D79A"/>
<path d="M1343.8,465.5h6.5l-3.2,6.0z" fill="#94D79A"/>
<path d="M1318.0,472.6h6.5l-3.2,6.0z" fill="#94D79A"/>
<path d="M1305.5,476.8h6.5l-3.2,6.0z" fill="#94D79A"/>
<path d="M1331.0,475.5h6.5l-3.2,6.0z" fill="#94D79A"/>
<path d="M1318.0,480.9h6.5l-3.2,6.0z" fill="#94D79A"/>
<path d="M1279.8,483.4h6.5l-3.2,6.0z" fill="#94D79A"/>
<path d="M1343.8,483.4h6.5l-3.2,6.0z" fill="#94D79A"/>
<path d="M1356.5,484.3h6.5l-3.2,6.0z" fill="#94D79A"/>
<path d="M1305.5,487.6h6.5l-3.2,6.0z" fill="#94D79A"/>
<path d="M1331.0,488.0h6.5l-3.2,6.0z" fill="#94D79A"/>
<path d="M1279.8,492.6h6.5l-3.2,6.0z" fill="#94D79A"/>
<path d="M1292.7,491.8h6.5l-3.2,6.0z" fill="#94D79A"/>
<path d="M1318.0,491.4h6.5l-3.2,6.0z" fill="#94D79A"/>
<path d="M1343.8,490.9h6.5l-3.2,6.0z" fill="#94D79A"/>
<path d="M1356.5,492.6h6.5l-3.2,6.0z" fill="#94D79A"/>
<path d="M1305.5,496.8h6.5l-3.2,6.0z" fill="#94D79A"/>
<path d="M1318.0,498.0h6.5l-3.2,6.0z" fill="#94D79A"/>
<path d="M1331.0,497.6h6.5l-3.2,6.0z" fill="#94D79A"/>
<path d="M1331.0,505.1h6.5l-3.2,6.0z" fill="#94D79A"/>
<path d="M1305.5,508.4h6.5l-3.2,6.0z" fill="#94D79A"/>
<path d="M1292.7,520.2h6.5l-3.2,6.0z" fill="#94D79A"/>
<path d="M1305.5,518.7h6.5l-3.2,6.0z" fill="#94D79A"/>
<path d="M1331.0,519.7h6.5l-3.2,6.0z" fill="#94D79A"/>
<path d="M1343.8,518.8h6.5l-3.2,6.0z" fill="#94D79A"/>
<path d="M1305.5,524.6h6.5l-3.2,6.0z" fill="#94D79A"/>
<path d="M1343.8,524.6h6.5l-3.2,6.0z" fill="#94D79A"/>
<path d="M1318.0,527.9h6.5l-3.2,6.0z" fill="#94D79A"/>
<path d="M1331.0,528.4h6.5l-3.2,6.0z" fill="#94D79A"/>
<path d="M1305.5,532.1h6.5l-3.2,6.0z" fill="#94D79A"/>
<path d="M1343.8,534.6h6.5l-3.2,6.0z" fill="#94D79A"/>
<path d="M1279.8,537.5h6.5l-3.2,6.0z" fill="#94D79A"/>
<path d="M1356.5,538.4h6.5l-3.2,6.0z" fill="#94D79A"/>
<path d="M1305.5,538.8h6.5l-3.2,6.0z" fill="#94D79A"/>
<path d="M1318.0,537.5h6.5l-3.2,6.0z" fill="#94D79A"/>
<path d="M1292.7,544.6h6.5l-3.2,6.0z" fill="#94D79A"/>
<path d="M1305.5,546.7h6.5l-3.2,6.0z" fill="#94D79A"/>
<path d="M1318.0,545.0h6.5l-3.2,6.0z" fill="#94D79A"/>
<path d="M1331.0,543.4h6.5l-3.2,6.0z" fill="#94D79A"/>
<path d="M1343.8,543.8h6.5l-3.2,6.0z" fill="#94D79A"/>
<path d="M1292.7,552.1h6.5l-3.2,6.0z" fill="#94D79A"/>
<path d="M1343.8,550.4h6.5l-3.2,6.0z" fill="#94D79A"/>
<path d="M1305.5,555.9h6.5l-3.2,6.0z" fill="#94D79A"/>
<path d="M1331.0,557.1h6.5l-3.2,6.0z" fill="#94D79A"/>
<path d="M1305.5,562.5h6.5l-3.2,6.0z" fill="#94D79A"/>
<path d="M1331.0,570.4h6.5l-3.2,6.0z" fill="#94D79A"/>
<path d="M1292.7,575.1h6.5l-3.2,6.0z" fill="#94D79A"/>
<path d="M1305.5,578.5h6.5l-3.2,6.0z" fill="#94D79A"/>
<path d="M1318.0,578.5h6.5l-3.2,6.0z" fill="#94D79A"/>
<path d="M1331.0,576.4h6.5l-3.2,6.0z" fill="#94D79A"/>
<path d="M1305.5,589.7h6.5l-3.2,6.0z" fill="#94D79A"/>
<path d="M1318.2,590.8h6.5l-3.2,6.0z" fill="#94D79A"/>
<path d="M1330.8,587.0h6.5l-3.2,6.0z" fill="#94D79A"/>
<path d="M1318.2,597.7h6.5l-3.2,6.0z" fill="#94D79A"/>
<path d="M1330.8,626.1h6.5l-3.2,6.0z" fill="#94D79A"/>
<path d="M1318.2,628.8h6.5l-3.2,6.0z" fill="#94D79A"/>
<path d="M1318.2,635.8h6.5l-3.2,6.0z" fill="#94D79A"/>
<path d="M1318.2,648.7h6.5l-3.2,6.0z" fill="#94D79A"/>
<path d="M1446.3,280.7l3.3,3.3l-3.3,3.3l-3.3,-3.3z" fill="#3A8FF2"/>
<path d="M1433.2,362.9l3.3,3.3l-3.3,3.3l-3.3,-3.3z" fill="#3A8FF2"/>
<path d="M1446.2,364.2l3.3,3.3l-3.3,3.3l-3.3,-3.3z" fill="#3A8FF2"/>
<path d="M1459.2,363.8l3.3,3.3l-3.3,3.3l-3.3,-3.3z" fill="#3A8FF2"/>
<path d="M1439.7,372.9l3.3,3.3l-3.3,3.3l-3.3,-3.3z" fill="#3A8FF2"/>
<path d="M1452.8,371.4l3.3,3.3l-3.3,3.3l-3.3,-3.3z" fill="#3A8FF2"/>
<path d="M1465.7,374.0l3.3,3.3l-3.3,3.3l-3.3,-3.3z" fill="#3A8FF2"/>
<path d="M1452.8,378.4l3.3,3.3l-3.3,3.3l-3.3,-3.3z" fill="#3A8FF2"/>
<path d="M1426.6,385.4l3.3,3.3l-3.3,3.3l-3.3,-3.3z" fill="#3A8FF2"/>
<path d="M1439.7,390.0l3.3,3.3l-3.3,3.3l-3.3,-3.3z" fill="#3A8FF2"/>
<path d="M1452.8,390.9l3.3,3.3l-3.3,3.3l-3.3,-3.3z" fill="#3A8FF2"/>
<path d="M1446.2,397.9l3.3,3.3l-3.3,3.3l-3.3,-3.3z" fill="#3A8FF2"/>
<path d="M1452.8,409.2l3.3,3.3l-3.3,3.3l-3.3,-3.3z" fill="#3A8FF2"/>
<path d="M1439.7,413.2l3.3,3.3l-3.3,3.3l-3.3,-3.3z" fill="#3A8FF2"/>
<path d="M1452.8,417.6l3.3,3.3l-3.3,3.3l-3.3,-3.3z" fill="#3A8FF2"/>
<path d="M1439.7,422.2l3.3,3.3l-3.3,3.3l-3.3,-3.3z" fill="#3A8FF2"/>
<path d="M1446.2,444.6l3.3,3.3l-3.3,3.3l-3.3,-3.3z" fill="#3A8FF2"/>
<path d="M1439.7,452.5l3.3,3.3l-3.3,3.3l-3.3,-3.3z" fill="#3A8FF2"/>
<path d="M1426.6,456.3l3.3,3.3l-3.3,3.3l-3.3,-3.3z" fill="#3A8FF2"/>
<path d="M1452.8,458.5l3.3,3.3l-3.3,3.3l-3.3,-3.3z" fill="#3A8FF2"/>
<path d="M1465.7,457.5l3.3,3.3l-3.3,3.3l-3.3,-3.3z" fill="#3A8FF2"/>
<path d="M1439.7,464.6l3.3,3.3l-3.3,3.3l-3.3,-3.3z" fill="#3A8FF2"/>
<path d="M1452.8,469.2l3.3,3.3l-3.3,3.3l-3.3,-3.3z" fill="#3A8FF2"/>
<path d="M1439.7,493.4l3.3,3.3l-3.3,3.3l-3.3,-3.3z" fill="#3A8FF2"/>
<path d="M1452.8,490.4l3.3,3.3l-3.3,3.3l-3.3,-3.3z" fill="#3A8FF2"/>
<path d="M1452.8,509.6l3.3,3.3l-3.3,3.3l-3.3,-3.3z" fill="#3A8FF2"/>
<path d="M1439.7,512.7l3.3,3.3l-3.3,3.3l-3.3,-3.3z" fill="#3A8FF2"/>
<path d="M1452.8,531.3l3.3,3.3l-3.3,3.3l-3.3,-3.3z" fill="#3A8FF2"/>
<path d="M1439.7,535.0l3.3,3.3l-3.3,3.3l-3.3,-3.3z" fill="#3A8FF2"/>
<path d="M1446.4,552.9l3.3,3.3l-3.3,3.3l-3.3,-3.3z" fill="#3A8FF2"/>
<path d="M1446.4,600.1l3.3,3.3l-3.3,3.3l-3.3,-3.3z" fill="#3A8FF2"/>
<path d="M97.60,775.30 V375.40 H176.60 V775.30" fill="none" stroke="#F47272" stroke-width="4.6" stroke-linejoin="miter"/>
<path d="M223.30,775.30 V549.00 H301.70 V775.30" fill="none" stroke="#A2DEA6" stroke-width="4.6" stroke-linejoin="miter"/>
<path d="M348.50,775.30 V635.60 H427.00 V775.30" fill="none" stroke="#4195F4" stroke-width="4.6" stroke-linejoin="miter"/>
<path d="M650.50,772.50 V654.90 H724.00 V772.50" fill="none" stroke="#F47272" stroke-width="4.6" stroke-linejoin="miter"/>
<path d="M768.30,772.50 V529.10 H842.30 V772.50" fill="none" stroke="#A2DEA6" stroke-width="4.6" stroke-linejoin="miter"/>
<path d="M886.80,772.50 V350.10 H960.20 V772.50" fill="none" stroke="#4195F4" stroke-width="4.6" stroke-linejoin="miter"/>
<path d="M1157.40,772.90 V585.10 H1235.30 V772.90" fill="none" stroke="#F47272" stroke-width="4.6" stroke-linejoin="miter"/>
<path d="M1282.40,772.90 V517.30 H1359.80 V772.90" fill="none" stroke="#A2DEA6" stroke-width="4.6" stroke-linejoin="miter"/>
<path d="M1407.60,772.90 V442.30 H1485.50 V772.90" fill="none" stroke="#4195F4" stroke-width="4.6" stroke-linejoin="miter"/>
<line x1="136.70" y1="299.50" x2="136.70" y2="446.20" stroke="#F47272" stroke-width="1.9" stroke-linecap="butt"/>
<line x1="116.00" y1="299.50" x2="157.40" y2="299.50" stroke="#F47272" stroke-width="1.9" stroke-linecap="butt"/>
<line x1="116.00" y1="446.20" x2="157.40" y2="446.20" stroke="#F47272" stroke-width="1.9" stroke-linecap="butt"/>
<line x1="262.30" y1="505.70" x2="262.30" y2="586.40" stroke="#A2DEA6" stroke-width="1.9" stroke-linecap="butt"/>
<line x1="241.60" y1="505.70" x2="283.00" y2="505.70" stroke="#A2DEA6" stroke-width="1.9" stroke-linecap="butt"/>
<line x1="241.60" y1="586.40" x2="283.00" y2="586.40" stroke="#A2DEA6" stroke-width="1.9" stroke-linecap="butt"/>
<line x1="387.50" y1="596.80" x2="387.50" y2="669.80" stroke="#4195F4" stroke-width="1.9" stroke-linecap="butt"/>
<line x1="366.90" y1="596.80" x2="408.10" y2="596.80" stroke="#4195F4" stroke-width="1.9" stroke-linecap="butt"/>
<line x1="366.90" y1="669.80" x2="408.10" y2="669.80" stroke="#4195F4" stroke-width="1.9" stroke-linecap="butt"/>
<line x1="686.80" y1="628.30" x2="686.80" y2="676.40" stroke="#F47272" stroke-width="1.9" stroke-linecap="butt"/>
<line x1="667.30" y1="628.30" x2="706.30" y2="628.30" stroke="#F47272" stroke-width="1.9" stroke-linecap="butt"/>
<line x1="667.30" y1="676.40" x2="706.30" y2="676.40" stroke="#F47272" stroke-width="1.9" stroke-linecap="butt"/>
<line x1="805.20" y1="491.70" x2="805.20" y2="562.10" stroke="#A2DEA6" stroke-width="1.9" stroke-linecap="butt"/>
<line x1="785.80" y1="491.70" x2="824.60" y2="491.70" stroke="#A2DEA6" stroke-width="1.9" stroke-linecap="butt"/>
<line x1="785.80" y1="562.10" x2="824.60" y2="562.10" stroke="#A2DEA6" stroke-width="1.9" stroke-linecap="butt"/>
<line x1="923.30" y1="315.70" x2="923.30" y2="380.25" stroke="#4195F4" stroke-width="1.9" stroke-linecap="butt"/>
<line x1="904.00" y1="315.70" x2="942.60" y2="315.70" stroke="#4195F4" stroke-width="1.9" stroke-linecap="butt"/>
<line x1="904.00" y1="380.25" x2="942.60" y2="380.25" stroke="#4195F4" stroke-width="1.9" stroke-linecap="butt"/>
<line x1="1196.50" y1="543.30" x2="1196.50" y2="622.10" stroke="#F47272" stroke-width="1.9" stroke-linecap="butt"/>
<line x1="1176.10" y1="543.30" x2="1216.90" y2="543.30" stroke="#F47272" stroke-width="1.9" stroke-linecap="butt"/>
<line x1="1176.10" y1="622.10" x2="1216.90" y2="622.10" stroke="#F47272" stroke-width="1.9" stroke-linecap="butt"/>
<line x1="1321.50" y1="459.20" x2="1321.50" y2="570.75" stroke="#A2DEA6" stroke-width="1.9" stroke-linecap="butt"/>
<line x1="1301.10" y1="459.20" x2="1341.90" y2="459.20" stroke="#A2DEA6" stroke-width="1.9" stroke-linecap="butt"/>
<line x1="1301.10" y1="570.75" x2="1341.90" y2="570.75" stroke="#A2DEA6" stroke-width="1.9" stroke-linecap="butt"/>
<line x1="1446.20" y1="370.20" x2="1446.20" y2="509.20" stroke="#4195F4" stroke-width="1.9" stroke-linecap="butt"/>
<line x1="1425.50" y1="370.20" x2="1466.90" y2="370.20" stroke="#4195F4" stroke-width="1.9" stroke-linecap="butt"/>
<line x1="1425.50" y1="509.20" x2="1466.90" y2="509.20" stroke="#4195F4" stroke-width="1.9" stroke-linecap="butt"/>
<path d="M153.45,226.80 V211.35 H386.75 V226.80" fill="none" stroke="#000" stroke-width="4.5" stroke-linejoin="miter"/>
<path d="M153.65,255.70 V240.15 H250.65 V255.70" fill="none" stroke="#000" stroke-width="4.5" stroke-linejoin="miter"/>
<path d="M265.15,409.00 V393.65 H383.75 V409.00" fill="none" stroke="#000" stroke-width="4.5" stroke-linejoin="miter"/>
<text x="245.27" y="203.37" font-family='"DejaVu Sans", sans-serif' font-weight="bold" font-size="26.45" letter-spacing="3.72" fill="#000" stroke="#000" stroke-width="1.4" stroke-linejoin="round">***</text>
<text x="177.73" y="231.81" font-family='"DejaVu Sans", sans-serif' font-weight="bold" font-size="23.66" letter-spacing="5.90" fill="#000" stroke="#000" stroke-width="1.4" stroke-linejoin="round">***</text>
<text x="299.19" y="385.88" font-family='"DejaVu Sans", sans-serif' font-weight="bold" font-size="25.38" letter-spacing="4.94" fill="#000" stroke="#000" stroke-width="1.4" stroke-linejoin="round">***</text>
<path d="M688.25,252.80 V228.55 H936.45 V252.80" fill="none" stroke="#000" stroke-width="4.5" stroke-linejoin="miter"/>
<path d="M800.95,280.00 V262.95 H909.75 V280.00" fill="none" stroke="#000" stroke-width="4.5" stroke-linejoin="miter"/>
<path d="M680.25,420.00 V404.95 H803.75 V420.00" fill="none" stroke="#000" stroke-width="4.5" stroke-linejoin="miter"/>
<text x="788.89" y="220.34" font-family='"DejaVu Sans", sans-serif' font-weight="bold" font-size="25.59" letter-spacing="3.42" fill="#000" stroke="#000" stroke-width="1.4" stroke-linejoin="round">***</text>
<text x="831.90" y="253.46" font-family='"DejaVu Sans", sans-serif' font-weight="bold" font-size="24.95" letter-spacing="4.07" fill="#000" stroke="#000" stroke-width="1.4" stroke-linejoin="round">***</text>
<text x="718.49" y="396.34" font-family='"DejaVu Sans", sans-serif' font-weight="bold" font-size="25.59" letter-spacing="3.97" fill="#000" stroke="#000" stroke-width="1.4" stroke-linejoin="round">***</text>
<path d="M1191.25,272.70 V254.95 H1447.05 V272.70" fill="none" stroke="#000" stroke-width="4.5" stroke-linejoin="miter"/>
<path d="M1315.55,330.00 V313.95 H1437.05 V330.00" fill="none" stroke="#000" stroke-width="4.5" stroke-linejoin="miter"/>
<path d="M1187.95,396.00 V380.55 H1326.05 V396.00" fill="none" stroke="#000" stroke-width="4.5" stroke-linejoin="miter"/>
<text x="1294.46" y="247.45" font-family='"DejaVu Sans", sans-serif' font-weight="bold" font-size="27.10" letter-spacing="3.63" fill="#000" stroke="#000" stroke-width="1.4" stroke-linejoin="round">***</text>
<text x="1351.19" y="306.34" font-family='"DejaVu Sans", sans-serif' font-weight="bold" font-size="25.59" letter-spacing="5.12" fill="#000" stroke="#000" stroke-width="1.4" stroke-linejoin="round">***</text>
<text x="1231.85" y="372.93" font-family='"DejaVu Sans", sans-serif' font-weight="bold" font-size="27.74" letter-spacing="3.43" fill="#000" stroke="#000" stroke-width="1.4" stroke-linejoin="round">***</text>
</svg>
</body></html>
